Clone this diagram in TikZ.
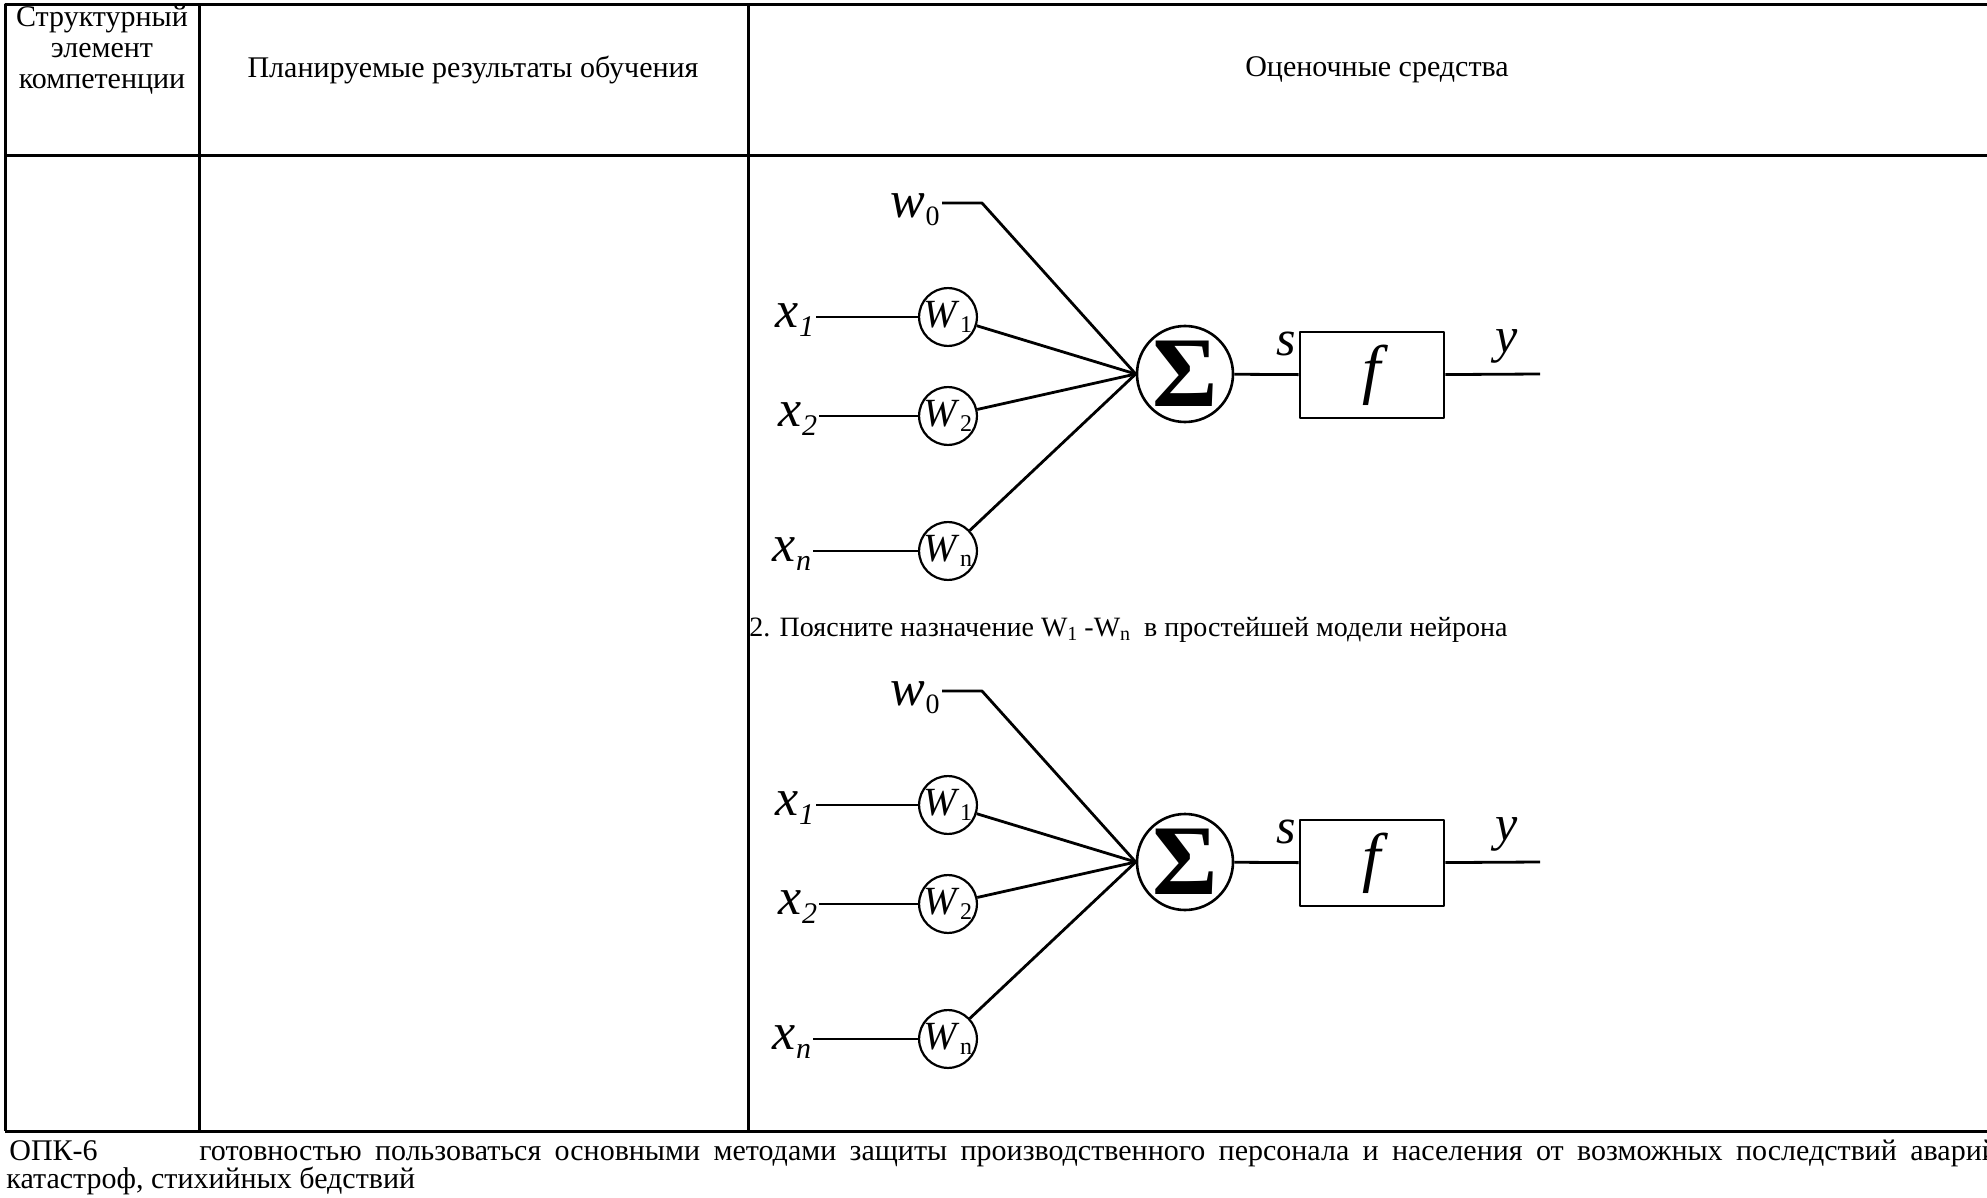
\documentclass[tikz,border=0pt]{standalone}
\usepackage{fontspec}
\setmainfont{Liberation Serif}
\usetikzlibrary{positioning}
\newcommand{\lsub}[2]{{\fontsize{#2}{#2}\selectfont #1}}
\tikzset{
  every picture/.style={
    line join=round,
    line cap=butt,
  },
  rule/.style={line width=1.5pt},
  wire/.style={line width=1.4pt},
  head/.style={font=\fontsize{15}{15.5}\selectfont, align=center, inner sep=0pt},
  body/.style={font=\fontsize{15}{15}\selectfont, inner sep=0pt},
  inlab/.style={font=\fontsize{26}{26}\selectfont\itshape, inner sep=1pt},
  outlab/.style={font=\fontsize{25}{25}\selectfont\itshape, inner sep=0pt},
  weight/.style={circle, draw, line width=1.1pt, minimum size=27pt, inner sep=0pt,
    font=\fontsize{20}{20}\selectfont},
  summer/.style={circle, draw, line width=1.3pt, minimum size=48pt, inner sep=0pt,
    font=\fontsize{50}{50}\selectfont\bfseries},
  actbox/.style={draw, line width=1.3pt, minimum width=72pt, minimum height=43pt,
    inner sep=0pt, font=\fontsize{33}{33}\selectfont\itshape},
}
\begin{document}
\begin{tikzpicture}[x=0.5pt, y=-0.5pt]
    \useasboundingbox (0,0) rectangle (1987,1198);

    % Table rules
    \draw[rule] (5,1131) -- (5,5) -- (1990,5);
    \draw[rule] (5,156) -- (1990,156);
    \draw[rule] (199,5) -- (199,1131);
    \draw[rule] (748,5) -- (748,1131);
    \draw[rule] (5,1131) -- (1990,1131);

    % Header cells
    \node[head] (hstruct) at (102,50) {Структурный\\элемент\\компетенции};
    \node[head] (hplan) at (473,70) {Планируемые результаты обучения};
    \node[head] (heval) at (1377,70) {Оценочные средства};

    % Two copies of the neuron model
    \foreach \dy/\pre in {0/a, 488/b} {
      \begin{scope}[shift={(0,\dy)}, name prefix=\pre-]
        \node[inlab, anchor=east] (w0) at (942,210) {w\raisebox{-0.35ex}{\lsub{\upshape 0}{14}}};
        \coordinate (w0end) at (982,203);
        \node[inlab] (x1) at (795,320) {x\raisebox{-0.35ex}{\lsub{1}{15}}};
        \node[inlab] (x2) at (798,419) {x\raisebox{-0.35ex}{\lsub{2}{15}}};
        \node[inlab] (xn) at (792,554) {x\raisebox{-0.35ex}{\lsub{n}{15}}};
        \node[weight] (w1) at (948,317) {\textit{W}\raisebox{-0.3ex}{\lsub{1}{12}}};
        \node[weight] (w2) at (948,416) {\textit{W}\raisebox{-0.3ex}{\lsub{2}{12}}};
        \node[weight] (wn) at (948,551) {\textit{W}\raisebox{-0.3ex}{\lsub{n}{12}}};
        \node[summer] (sum) at (1185,374) {Σ};
        \node[actbox] (act) at (1372,375) {f};
        \coordinate (yout) at (1540,374);
        \node[outlab] (slab) at (1286,344) {s};
        \node[outlab] (ylab) at (1507,346) {y};

        \draw[wire] (w0.east |- w0end) -- (w0end) -- (sum.west);
        \draw[wire] (x1.east |- w1) -- (w1.west);
        \draw[wire] (x2.east |- w2) -- (w2.west);
        \draw[wire] (xn.east |- wn) -- (wn.west);
        \draw[wire] (w1) -- (sum.west);
        \draw[wire] (w2) -- (sum.west);
        \draw[wire] (wn) -- (sum.west);
        \draw[wire] (sum) -- (act);
        \draw[wire] (act) -- (yout);
      \end{scope}
    }

    % Question between the two models
    \node[body, font=\fontsize{14}{14}\selectfont, anchor=west] (quest) at (749,630)
      {2. Поясните назначение W\raisebox{-0.3ex}{\lsub{1}{10}} -W\raisebox{-0.3ex}{\lsub{n}{10}}\ \ в простейшей модели нейрона};

    % Competence line below the table
    \node[body, anchor=base west] (code) at (9,1160) {ОПК-6};
    \node[body, anchor=base west] (comp) at (199,1160)
      {\makebox[903pt][s]{готовностью пользоваться основными методами защиты производственного персонала и населения от возможных последствий аварий,}};
    \node[body, anchor=base west] (comp2) at (6,1188) {катастроф, стихийных бедствий};
\end{tikzpicture}
\end{document}
